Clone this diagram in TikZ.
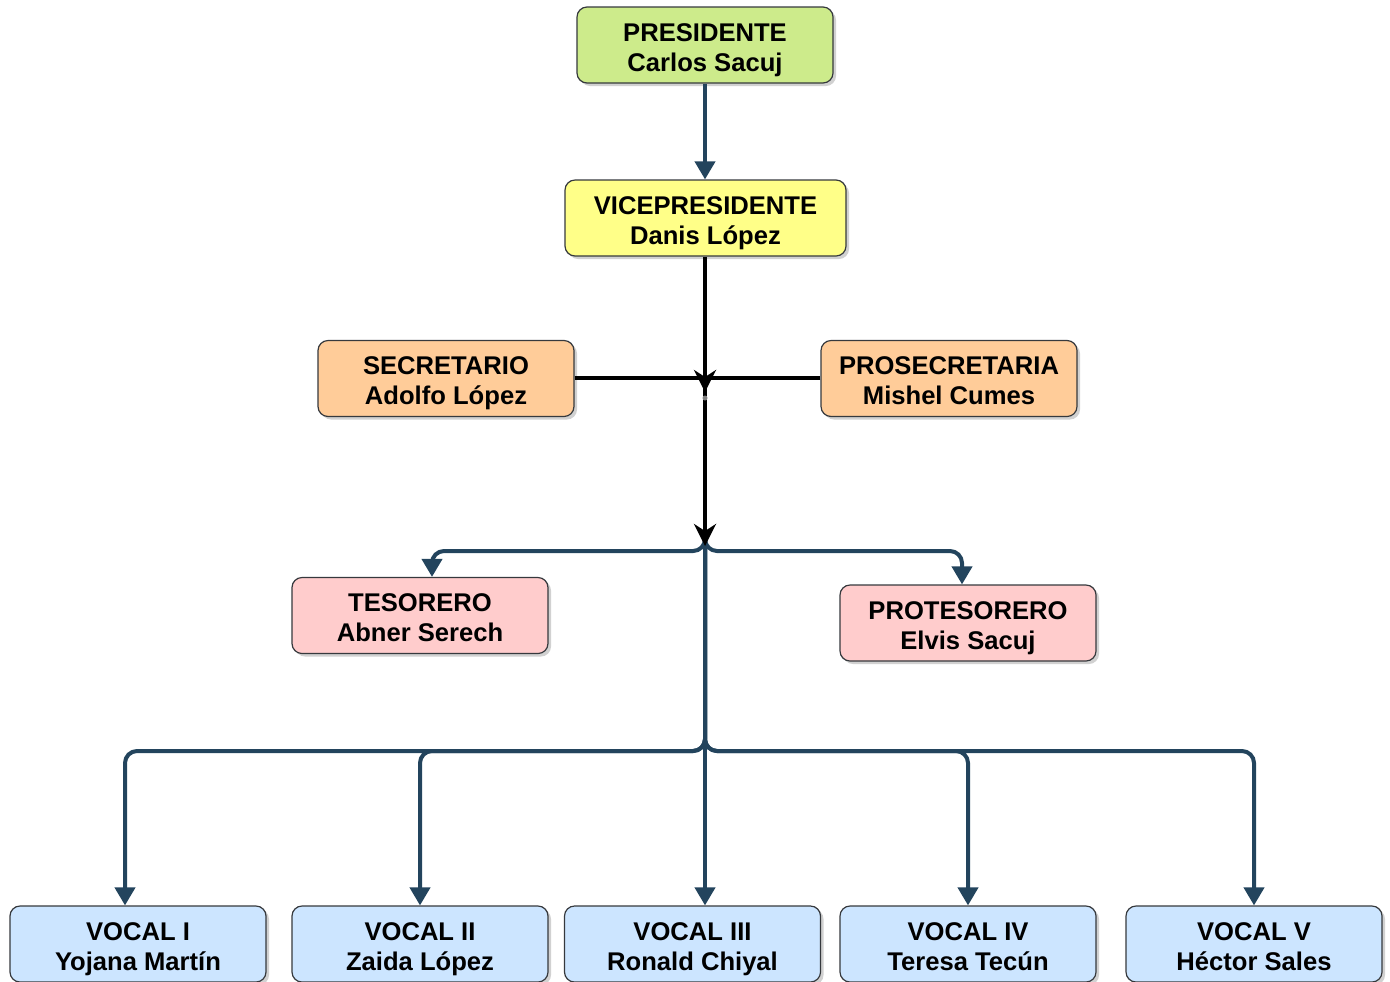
\documentclass[tikz,border=0pt]{standalone}
\usepackage{fontspec}
\setmainfont{Liberation Sans}
\usetikzlibrary{arrows.meta,shadows}
\definecolor{edgeblue}{HTML}{23445D}
\definecolor{boxline}{HTML}{36393D}
\definecolor{cgreen}{HTML}{CDEB8B}
\definecolor{cyellow}{HTML}{FFFF88}
\definecolor{corange}{HTML}{FFCC99}
\definecolor{cpink}{HTML}{FFCCCC}
\definecolor{cblue}{HTML}{CCE5FF}
\newcommand{\twolines}[2]{\rule{0pt}{14pt}#1\\#2\rule[-3pt]{0pt}{3pt}}
\tikzset{
  box/.style={draw=boxline, line width=0.6pt, rounded corners=5pt, align=center,
    minimum width=128pt, minimum height=38pt, inner sep=0pt,
    font=\fontsize{12.8}{15}\selectfont\bfseries,
    drop shadow={shadow xshift=1.5pt, shadow yshift=-1.5pt, opacity=0.3, fill=black!60}},
  bluearrow/.style={draw=edgeblue, line width=2pt, rounded corners=6pt,
    -{Triangle[width=10pt,length=9pt]}},
  blackline/.style={draw=black, line width=2pt},
  blackarrow/.style={draw=black, line width=2pt, -{Stealth[width=11pt,length=11pt,inset=3.5pt]}}
}
\begin{document}
\begin{tikzpicture}[x=0.5pt,y=-0.5pt]
\useasboundingbox (0,0) rectangle (1390,981);
\node[box, fill=cgreen] (pres) at (705,45) {\twolines{PRESIDENTE}{Carlos Sacuj}};
\node[box, fill=cyellow, minimum width=140.5pt] (vice) at (705.5,218) {\twolines{VICEPRESIDENTE}{Danis López}};
\node[box, fill=corange] (sec) at (446,378.5) {\twolines{SECRETARIO}{Adolfo López}};
\node[box, fill=corange] (prosec) at (949,378.5) {\twolines{PROSECRETARIA}{Mishel Cumes}};
\node[box, fill=cpink] (tes) at (420,615.5) {\twolines{TESORERO}{Abner Serech}};
\node[box, fill=cpink] (protes) at (968,623) {\twolines{PROTESORERO}{Elvis Sacuj}};
\node[box, fill=cblue] (v1) at (138,944) {\twolines{VOCAL I}{Yojana Martín}};
\node[box, fill=cblue] (v2) at (420,944) {\twolines{VOCAL II}{Zaida López}};
\node[box, fill=cblue] (v3) at (692.5,944) {\twolines{VOCAL III}{Ronald Chiyal}};
\node[box, fill=cblue] (v4) at (968,944) {\twolines{VOCAL IV}{Teresa Tecún}};
\node[box, fill=cblue] (v5) at (1254,944) {\twolines{VOCAL V}{Héctor Sales}};

\coordinate (j1) at (705,378);
\coordinate (j1b) at (705,392);
\coordinate (j2) at (705,546);
\coordinate (j2b) at (705,551);
\coordinate (j3) at (705,751);

% president to vice
\draw[bluearrow] (pres.south -| 705,0) -- (vice.north -| 705,0);
% blue edges from j2
\draw[bluearrow] (j2) -- (j2b) -- (432,551) -- (tes.north -| 432,0);
\draw[bluearrow] (j2) -- (j2b) -- (962,551) -- (protes.north -| 962,0);
\draw[bluearrow] (j2) -- (j3) -- (125,751) -- (v1.north -| 125,0);
\draw[bluearrow] (j2) -- (j3) -- (420,751) -- (v2.north -| 420,0);
\draw[bluearrow] (j2) -- (v3.north -| 705,0);
\draw[bluearrow] (j2) -- (j3) -- (968,751) -- (v4.north -| 968,0);
\draw[bluearrow] (j2) -- (j3) -- (1254,751) -- (v5.north -| 1254,0);
% black edges
\draw[blackline] (sec.east |- j1) -- (j1);
\draw[blackline] (prosec.west |- j1) -- (j1);
\draw[blackarrow] (705,370) -- (j1b);
\draw[blackarrow] (vice.south -| 705,0) -- (j2);
\fill[gray] (705,398) circle (2.5);
\end{tikzpicture}
\end{document}
